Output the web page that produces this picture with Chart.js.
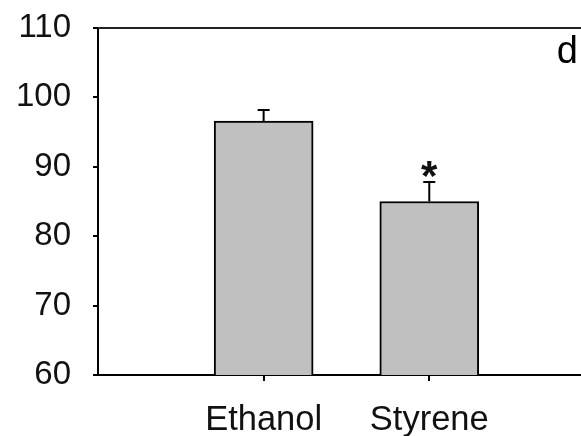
<!DOCTYPE html>
<html>
<head>
<meta charset="utf-8">
<script src="https://cdn.jsdelivr.net/npm/chart.js@4"></script>
<style>
  html, body { margin: 0; padding: 0; background: #fff; overflow: hidden; }
  #wrap { width: 581px; height: 436px; }
</style>
</head>
<body>
<div id="wrap"><canvas id="bar-canvas"></canvas></div>
<script>
// treatment groups, placed at x = 1, 2 on a linear axis
const categories = ['Ethanol', 'Styrene'];
const positions = [1, 2];
const means = [96.6, 85.0];
const errTop = [98.2, 87.8];
const marks = ['', '*'];
const yTicks = [60, 70, 80, 90, 100, 110];
const panelLabel = 'd';

const FONT = "'Liberation Sans', Arial, sans-serif";

// top frame line, upper error bars, significance marks and the panel letter
const errorBars = {
    id: 'errorBars',
    afterDatasetsDraw(chart) {
        let ctx = chart.ctx;
        let y = chart.scales.y;
        let area = chart.chartArea;
        let meta = chart.getDatasetMeta(0);
        ctx.save();
        ctx.strokeStyle = '#222';
        ctx.lineWidth = 2;
        ctx.beginPath();
        ctx.moveTo(area.left, area.top);
        ctx.lineTo(area.right, area.top);
        ctx.stroke();

        ctx.strokeStyle = '#000';
        meta.data.forEach((bar, i) => {
            let top = y.getPixelForValue(errTop[i]);
            ctx.beginPath();
            ctx.moveTo(bar.x, bar.y);
            ctx.lineTo(bar.x, top);
            ctx.moveTo(bar.x - 6, top);
            ctx.lineTo(bar.x + 6, top);
            ctx.stroke();
            if (marks[i]) {
                ctx.fillStyle = '#111';
                ctx.font = 'bold 42px ' + FONT;
                ctx.textAlign = 'center';
                ctx.textBaseline = 'alphabetic';
                ctx.fillText(marks[i], bar.x, top + 8);
            }
        });
        ctx.fillStyle = '#000';
        ctx.font = '38px ' + FONT;
        ctx.textAlign = 'right';
        ctx.textBaseline = 'alphabetic';
        ctx.fillText(panelLabel, area.right - 3, area.top + 35);
        ctx.restore();
    }
};

let ctx = document.getElementById('bar-canvas').getContext('2d');
let chart = new Chart(ctx, {
    type: 'bar',
    data: {
        datasets: [{
            data: positions.map((p, i) => ({ x: p, y: means[i] })),
            backgroundColor: '#c0c0c0',
            borderColor: '#000',
            borderWidth: 2,
            barThickness: 99
        }]
    },
    options: {
        responsive: true,
        maintainAspectRatio: false,
        animation: false,
        layout: { padding: { top: 28, right: 0, left: 0, bottom: 0 } },
        plugins: {
            legend: { display: false },
            tooltip: { enabled: false }
        },
        scales: {
            x: {
                type: 'linear',
                offset: false,
                min: 0,
                max: 2.916,
                afterBuildTicks: (scale) => {
                    scale.ticks = positions.map(p => ({ value: p }));
                },
                afterFit: (scale) => {
                    scale.height = 61;
                    scale.paddingLeft = 0;
                    scale.paddingRight = 0;
                },
                ticks: {
                    callback: (v) => categories[positions.indexOf(v)] || '',
                    font: { family: FONT, size: 34.5 },
                    color: '#111',
                    padding: 19,
                    maxRotation: 0,
                    autoSkip: false
                },
                grid: {
                    offset: false,
                    drawOnChartArea: false,
                    drawTicks: true,
                    tickLength: 6,
                    color: '#000',
                    lineWidth: 2
                },
                border: { color: '#000', width: 2 }
            },
            y: {
                min: 60,
                max: 110,
                afterBuildTicks: (scale) => {
                    scale.ticks = yTicks.map(v => ({ value: v }));
                },
                afterFit: (scale) => {
                    scale.width = 98;
                    scale.paddingTop = 0;
                    scale.paddingBottom = 0;
                },
                ticks: {
                    font: { family: FONT, size: 33 },
                    color: '#111',
                    padding: 22
                },
                grid: {
                    drawOnChartArea: false,
                    drawTicks: true,
                    tickLength: 5,
                    color: '#000',
                    lineWidth: 2
                },
                border: { color: '#000', width: 2 }
            }
        }
    },
    plugins: [errorBars]
});
</script>
</body>
</html>
